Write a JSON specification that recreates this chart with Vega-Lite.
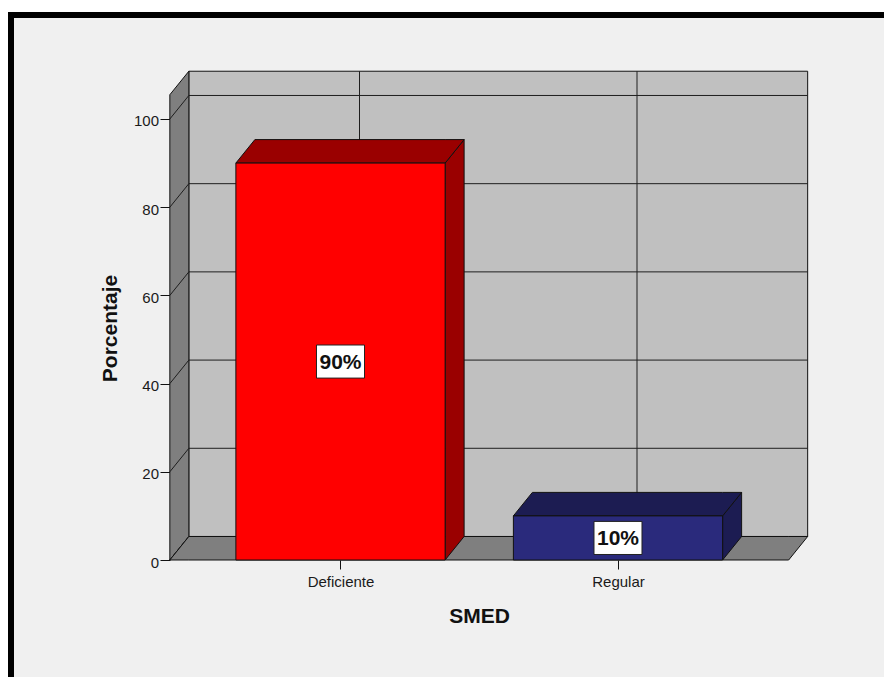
{
  "$schema": "https://vega.github.io/schema/vega-lite/v6.json",
  "width": 873,
  "height": 662,
  "autosize": {"type": "none"},
  "padding": {"left": 11, "top": 15, "right": 0, "bottom": 0},
  "background": "#ffffff",
  "config": {
    "font": "Liberation Sans",
    "view": {
      "fill": "#f0f0f0",
      "stroke": "#000000",
      "strokeWidth": 6,
      "strokeDash": [873, 1535, 662],
      "strokeCap": "square"
    }
  },
  "params": [
    {"name": "dx", "value": 0.0685},
    {"name": "dy", "value": 5.33},
    {"name": "hw", "value": 0.377},
    {"name": "xizq", "value": -0.615},
    {"name": "xder", "value": 1.615},
    {"name": "ytope", "value": 105.5},
    {"name": "cw", "value": 0.0865},
    {"name": "ch", "value": 3.75}
  ],
  "datasets": {
    "barras": [
      {"SMED": "Deficiente", "Porcentaje": 90},
      {"SMED": "Regular", "Porcentaje": 10}
    ],
    "marcas": [
      {"v": 0}, {"v": 20}, {"v": 40}, {"v": 60}, {"v": 80}, {"v": 100}
    ],
    "marco": [
      {"pieza": "escenario"}
    ]
  },
  "encoding": {
    "x": {
      "field": "x",
      "type": "quantitative",
      "scale": {"domain": [-1.1874, 1.9586], "nice": false, "zero": false},
      "axis": {
        "title": "SMED",
        "values": [0, 1],
        "labelExpr": "datum.value === 0 ? 'Deficiente' : 'Regular'",
        "offset": -117,
        "domain": false,
        "grid": false,
        "tickSize": 9,
        "tickColor": "#111111",
        "labelFontSize": 15,
        "labelColor": "#1a1a1a",
        "labelPadding": 5,
        "labelFlush": false,
        "labelOverlap": false,
        "titleFontSize": 21,
        "titleFontWeight": "bold",
        "titleColor": "#111111",
        "titleX": 468,
        "titleY": 62.7,
        "titleBaseline": "alphabetic",
        "titleAlign": "center"
      }
    },
    "y": {
      "field": "y",
      "type": "quantitative",
      "scale": {"domain": [-26.53, 123.58], "nice": false, "zero": false},
      "axis": {
        "title": "Porcentaje",
        "values": [0, 20, 40, 60, 80, 100],
        "offset": -159,
        "domain": false,
        "grid": false,
        "tickSize": 10,
        "tickColor": "#111111",
        "labelFontSize": 15,
        "labelColor": "#1a1a1a",
        "labelPadding": 1.5,
        "labelOffset": 2,
        "titleFontSize": 21,
        "titleFontWeight": "bold",
        "titleColor": "#111111",
        "titleX": -60,
        "titleY": 313,
        "titleAngle": -90,
        "titleBaseline": "middle",
        "titleAlign": "center"
      }
    }
  },
  "layer": [
    {
      "data": {"name": "marco"},
      "transform": [
        {"calculate": "xizq + dx", "as": "x"},
        {"calculate": "xder + dx", "as": "x2"},
        {"calculate": "dy", "as": "y"},
        {"calculate": "ytope + dy", "as": "y2"}
      ],
      "mark": {"type": "rect", "fill": "#c0c0c0", "stroke": "#111111", "strokeWidth": 1},
      "encoding": {"x2": {"field": "x2"}, "y2": {"field": "y2"}}
    },
    {
      "data": {"name": "marcas"},
      "transform": [
        {"calculate": "xizq + dx", "as": "x"},
        {"calculate": "xder + dx", "as": "x2"},
        {"calculate": "datum.v + dy", "as": "y"}
      ],
      "mark": {"type": "rule", "color": "#1e1e1e", "strokeWidth": 1},
      "encoding": {"x2": {"field": "x2"}}
    },
    {
      "data": {"name": "barras"},
      "transform": [
        {"calculate": "indexof(['Deficiente', 'Regular'], datum.SMED) + dx", "as": "x"},
        {"calculate": "dy", "as": "y"},
        {"calculate": "ytope + dy", "as": "y2"}
      ],
      "mark": {"type": "rule", "color": "#1e1e1e", "strokeWidth": 1},
      "encoding": {"y2": {"field": "y2"}}
    },
    {
      "data": {"name": "marco"},
      "transform": [
        {"calculate": "[0, 1]", "as": "c"},
        {"flatten": ["c"]},
        {"calculate": "xizq + datum.c * dx", "as": "x"},
        {"calculate": "ytope + datum.c * dy", "as": "y"},
        {"calculate": "datum.c * dy", "as": "y2"}
      ],
      "mark": {"type": "area", "orient": "vertical", "fill": "#7f7f7f", "stroke": "#111111", "strokeWidth": 1},
      "encoding": {"y2": {"field": "y2"}}
    },
    {
      "data": {"name": "marcas"},
      "transform": [
        {"calculate": "xizq", "as": "x"},
        {"calculate": "xizq + dx", "as": "x2"},
        {"calculate": "datum.v", "as": "y"},
        {"calculate": "datum.v + dy", "as": "y2"}
      ],
      "mark": {"type": "rule", "color": "#1e1e1e", "strokeWidth": 1},
      "encoding": {"x2": {"field": "x2"}, "y2": {"field": "y2"}}
    },
    {
      "data": {"name": "marco"},
      "transform": [
        {"calculate": "[0, 1, 2, 3]", "as": "c"},
        {"flatten": ["c"]},
        {"calculate": "[xizq, xizq + dx, xder, xder + dx][datum.c]", "as": "x"},
        {"calculate": "[0, dy, dy, dy][datum.c]", "as": "y"},
        {"calculate": "[0, 0, 0, dy][datum.c]", "as": "y2"}
      ],
      "mark": {"type": "area", "orient": "vertical", "fill": "#7f7f7f", "stroke": "#111111", "strokeWidth": 1},
      "encoding": {"y2": {"field": "y2"}}
    },
    {
      "data": {"name": "barras"},
      "transform": [
        {"calculate": "indexof(['Deficiente', 'Regular'], datum.SMED)", "as": "i"},
        {"calculate": "[0, 1]", "as": "c"},
        {"flatten": ["c"]},
        {"calculate": "datum.i + hw + datum.c * dx", "as": "x"},
        {"calculate": "datum.Porcentaje + datum.c * dy", "as": "y"},
        {"calculate": "datum.c * dy", "as": "y2"}
      ],
      "mark": {"type": "area", "orient": "vertical", "stroke": "#111111", "strokeWidth": 1},
      "encoding": {
        "y2": {"field": "y2"},
        "detail": {"field": "SMED"},
        "fill": {"condition": {"test": "datum.SMED === 'Deficiente'", "value": "#9a0000"}, "value": "#1c1c52"}
      }
    },
    {
      "data": {"name": "barras"},
      "transform": [
        {"calculate": "indexof(['Deficiente', 'Regular'], datum.SMED)", "as": "i"},
        {"calculate": "[0, 1, 2, 3]", "as": "c"},
        {"flatten": ["c"]},
        {"calculate": "[datum.i - hw, datum.i - hw + dx, datum.i + hw, datum.i + hw + dx][datum.c]", "as": "x"},
        {"calculate": "[datum.Porcentaje, datum.Porcentaje + dy, datum.Porcentaje + dy, datum.Porcentaje + dy][datum.c]", "as": "y"},
        {"calculate": "[datum.Porcentaje, datum.Porcentaje, datum.Porcentaje, datum.Porcentaje + dy][datum.c]", "as": "y2"}
      ],
      "mark": {"type": "area", "orient": "vertical", "stroke": "#111111", "strokeWidth": 1},
      "encoding": {
        "y2": {"field": "y2"},
        "detail": {"field": "SMED"},
        "fill": {"condition": {"test": "datum.SMED === 'Deficiente'", "value": "#9a0000"}, "value": "#1c1c52"}
      }
    },
    {
      "data": {"name": "barras"},
      "transform": [
        {"calculate": "indexof(['Deficiente', 'Regular'], datum.SMED)", "as": "i"},
        {"calculate": "datum.i - hw", "as": "x"},
        {"calculate": "datum.i + hw", "as": "x2"},
        {"calculate": "0", "as": "y"},
        {"calculate": "datum.Porcentaje", "as": "y2"}
      ],
      "mark": {"type": "rect", "stroke": "#111111", "strokeWidth": 1},
      "encoding": {
        "x2": {"field": "x2"},
        "y2": {"field": "y2"},
        "fill": {"condition": {"test": "datum.SMED === 'Deficiente'", "value": "#ff0000"}, "value": "#2a2a7c"}
      }
    },
    {
      "data": {"name": "barras"},
      "transform": [
        {"calculate": "indexof(['Deficiente', 'Regular'], datum.SMED)", "as": "i"},
        {"calculate": "datum.i - cw", "as": "x"},
        {"calculate": "datum.i + cw", "as": "x2"},
        {"calculate": "datum.Porcentaje / 2 - ch", "as": "y"},
        {"calculate": "datum.Porcentaje / 2 + ch", "as": "y2"}
      ],
      "mark": {"type": "rect", "fill": "#ffffff", "stroke": "#222222", "strokeWidth": 1},
      "encoding": {"x2": {"field": "x2"}, "y2": {"field": "y2"}}
    },
    {
      "data": {"name": "barras"},
      "transform": [
        {"calculate": "indexof(['Deficiente', 'Regular'], datum.SMED)", "as": "x"},
        {"calculate": "datum.Porcentaje / 2", "as": "y"},
        {"calculate": "format(datum.Porcentaje, 'd') + '%'", "as": "etiqueta"}
      ],
      "mark": {"type": "text", "fontSize": 21, "fontWeight": "bold", "align": "center", "baseline": "middle", "dy": 1, "color": "#111111"},
      "encoding": {"text": {"field": "etiqueta"}}
    }
  ]
}
